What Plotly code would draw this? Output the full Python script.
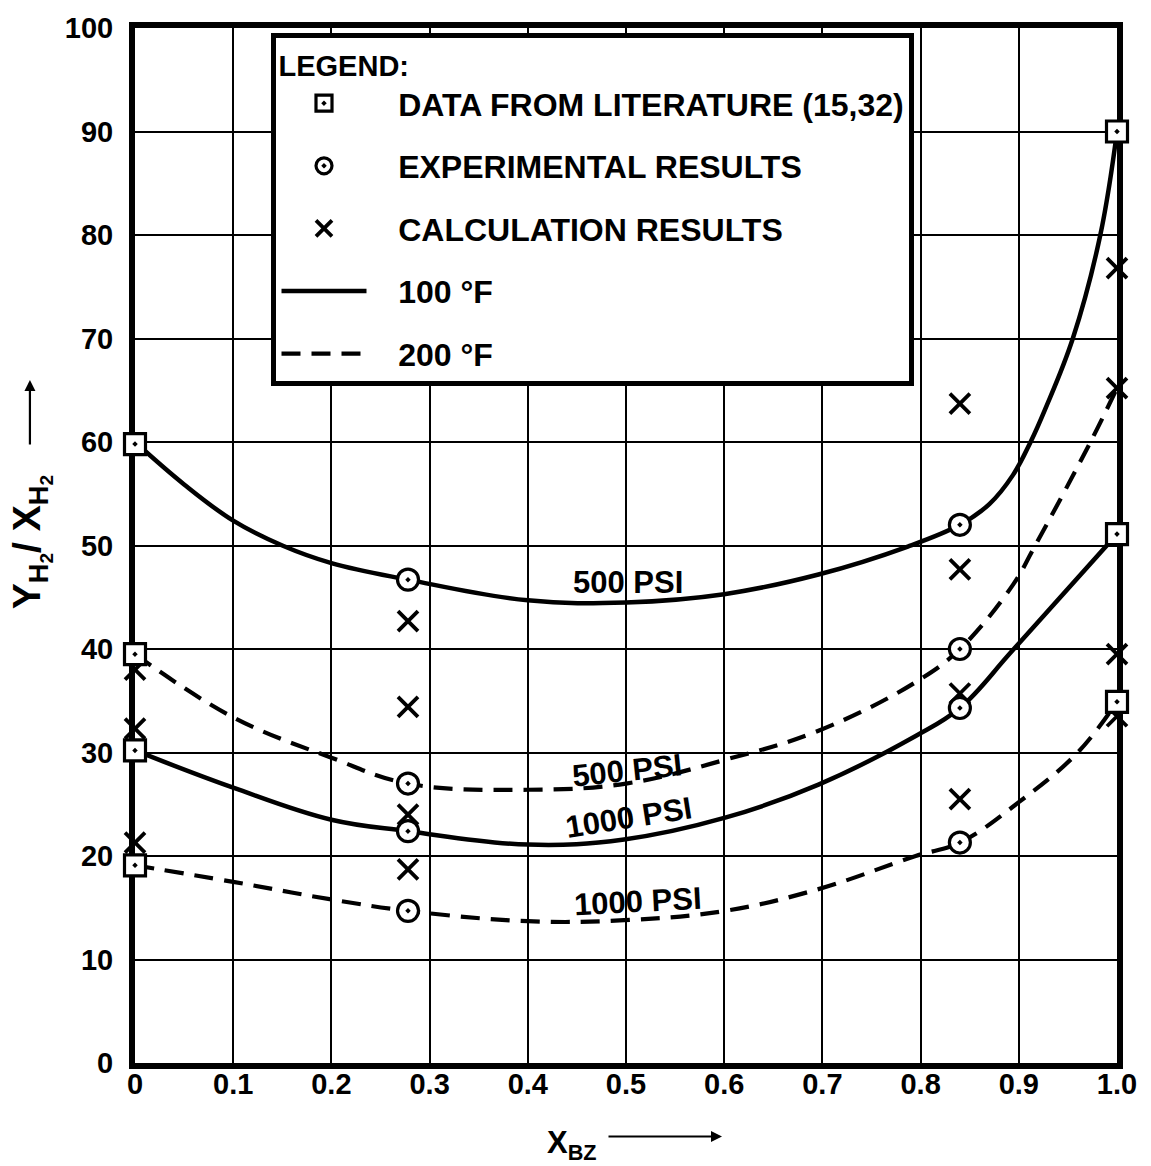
import plotly.graph_objects as go

# ---------------- data ----------------
# Data from literature (squares)
lit_x = [0.0, 0.0, 0.0, 0.0, 1.0, 1.0, 1.0]
lit_y = [59.8, 39.5, 30.2, 19.1, 90.0, 51.1, 34.9]

# Experimental results (circles)
exp_x = [0.278, 0.278, 0.278, 0.278, 0.84, 0.84, 0.84, 0.84]
exp_y = [46.7, 27.0, 22.4, 14.7, 52.0, 40.0, 34.3, 21.3]

# Calculation results (X)
calc_x = [0.0, 0.0, 0.0, 0.278, 0.278, 0.278, 0.278, 0.84, 0.84, 0.84, 0.84, 1.0, 1.0, 1.0, 1.0]
calc_y = [38.0, 32.3, 21.3, 42.7, 34.4, 24.0, 18.7, 63.7, 47.7, 35.7, 25.5, 76.8, 65.2, 39.5, 33.5]

# Curves
f100_p500_x = [0.0, 0.05, 0.1, 0.15, 0.2, 0.278, 0.4, 0.5, 0.6, 0.696, 0.787, 0.84, 0.87, 0.894, 0.912, 0.927, 0.955, 0.983, 1.0]
f100_p500_y = [60.0, 55.9, 52.4, 50.0, 48.3, 46.7, 44.7, 44.5, 45.3, 47.2, 49.9, 52.0, 54.0, 56.8, 60.0, 63.2, 70.0, 80.0, 90.0]

f200_p500_x = [0.0, 0.1, 0.2, 0.278, 0.4, 0.5, 0.601, 0.696, 0.795, 0.84, 0.894, 0.915, 0.973, 1.0]
f200_p500_y = [39.5, 33.4, 29.5, 27.0, 26.4, 27.0, 29.3, 32.1, 36.8, 40.0, 46.2, 49.7, 60.0, 65.2]

f100_p1000_x = [0.0, 0.1, 0.2, 0.278, 0.4, 0.498, 0.601, 0.696, 0.795, 0.84, 0.894, 1.0]
f100_p1000_y = [30.2, 26.6, 23.5, 22.4, 21.1, 21.6, 23.7, 26.9, 31.6, 34.3, 39.9, 51.1]

f200_p1000_x = [0.0, 0.1, 0.2, 0.278, 0.4, 0.498, 0.601, 0.696, 0.795, 0.84, 0.9, 0.96, 1.0]
f200_p1000_y = [19.1, 17.5, 15.8, 14.7, 13.7, 13.8, 14.7, 16.8, 20.0, 21.3, 25.2, 30.0, 34.9]

x_ticks = [0, 0.1, 0.2, 0.3, 0.4, 0.5, 0.6, 0.7, 0.8, 0.9, 1.0]
x_tick_text = ["0", "0.1", "0.2", "0.3", "0.4", "0.5", "0.6", "0.7", "0.8", "0.9", "1.0"]
y_ticks = [0, 10, 20, 30, 40, 50, 60, 70, 80, 90, 100]

curve_labels = ["500 PSI", "500 PSI", "1000 PSI", "1000 PSI"]

# ---------------- figure ----------------
FONT = "Liberation Sans, Arial, sans-serif"
solid_w = 4.5
dash_w = 4.2
dash_pat = "19px,11px"
SM = 1.1
PAD = "\u00a0\u00a0\u00a0"

fig = go.Figure()

fig.add_trace(go.Scatter(x=f100_p500_x, y=f100_p500_y, mode="lines", name=PAD + "100 °F",
                         line=dict(color="black", width=solid_w, shape="spline", smoothing=SM),
                         legendgroup="g4", legendrank=4, showlegend=True, hoverinfo="skip"))
fig.add_trace(go.Scatter(x=f100_p1000_x, y=f100_p1000_y, mode="lines", name=PAD + "100 °F",
                         line=dict(color="black", width=solid_w, shape="spline", smoothing=SM),
                         legendgroup="g4", showlegend=False, hoverinfo="skip"))
fig.add_trace(go.Scatter(x=f200_p500_x, y=f200_p500_y, mode="lines", name=PAD + "200 °F",
                         line=dict(color="black", width=dash_w, dash=dash_pat, shape="spline", smoothing=SM),
                         legendgroup="g5", legendrank=5, showlegend=True, hoverinfo="skip"))
fig.add_trace(go.Scatter(x=f200_p1000_x, y=f200_p1000_y, mode="lines", name=PAD + "200 °F",
                         line=dict(color="black", width=dash_w, dash=dash_pat, shape="spline", smoothing=SM),
                         legendgroup="g5", showlegend=False, hoverinfo="skip"))

fig.add_trace(go.Scatter(x=calc_x, y=calc_y, mode="markers", name=PAD + "CALCULATION RESULTS",
                         marker=dict(symbol="x-thin", size=20, color="black",
                                     line=dict(color="black", width=3.8)),
                         legendgroup="g3", legendrank=3, cliponaxis=False))
fig.add_trace(go.Scatter(x=exp_x, y=exp_y, mode="markers", name=PAD + "EXPERIMENTAL RESULTS",
                         marker=dict(symbol="circle-dot", size=21, color="white",
                                     line=dict(color="black", width=3.2)),
                         legendgroup="g2", legendrank=2, cliponaxis=False))
fig.add_trace(go.Scatter(x=lit_x, y=lit_y, mode="markers", name=PAD + "DATA FROM LITERATURE (15,32)",
                         marker=dict(symbol="square-dot", size=21, color="white",
                                     line=dict(color="black", width=3.2)),
                         legendgroup="g1", legendrank=1, cliponaxis=False))

axis_common = dict(
    showgrid=True, gridcolor="black", gridwidth=1.6,
    showline=True, linecolor="black", linewidth=6, mirror=True,
    ticks="", zeroline=False, layer="below traces",
    tickfont=dict(family=FONT, size=29, color="black", weight="bold"),
)

fig.update_xaxes(range=[0, 1], tickvals=x_ticks, ticktext=x_tick_text,
                 ticklabelstandoff=-10, **axis_common)
fig.update_yaxes(range=[0, 100], tickvals=y_ticks, ticklabelstandoff=10, **axis_common)

annotations = []
label_pos = [(0.502, 46.4, 0), (0.501, 28.3, -6), (0.503, 23.7, -9), (0.512, 15.6, -3)]
for txt, (lx, ly, ang) in zip(curve_labels, label_pos):
    annotations.append(dict(x=lx, y=ly, xref="x", yref="y", text=txt, showarrow=False,
                            textangle=ang, font=dict(family=FONT, size=31, color="black", weight="bold")))

# axis titles
annotations.append(dict(x=-0.135, y=0.503, xref="paper", yref="paper",
                        text="Y<sub>H<sub>2</sub></sub>/ X<sub>H<sub>2</sub></sub>",
                        showarrow=False, textangle=-90,
                        font=dict(family=FONT, size=39, color="black", weight="bold")))
annotations.append(dict(x=-0.107, y=(1063 - 376) / 1041, xref="paper", yref="paper", text="",
                        showarrow=True, arrowhead=2, arrowsize=1, arrowwidth=2.2, arrowcolor="black",
                        ax=0, ay=66))
annotations.append(dict(x=0.445, y=-0.1, xref="paper", yref="paper",
                        text="X<sub>BZ</sub>", showarrow=False,
                        font=dict(family=FONT, size=31, color="black", weight="bold")))
annotations.append(dict(x=(722 - 135) / 982, y=-0.071, xref="paper", yref="paper", text="",
                        showarrow=True, arrowhead=2, arrowsize=1, arrowwidth=2.2, arrowcolor="black",
                        ax=-115, ay=0))

fig.update_layout(
    width=1151, height=1166,
    margin=dict(l=135, r=34, t=22, b=103),
    paper_bgcolor="white", plot_bgcolor="white",
    font=dict(family=FONT, color="black"),
    annotations=annotations,
    showlegend=True,
    legend=dict(
        x=0.139, y=0.995, xanchor="left", yanchor="top",
        bgcolor="white", bordercolor="black", borderwidth=5,
        font=dict(family=FONT, size=32, color="black", weight="bold"),
        title=dict(text="LEGEND:", font=dict(family=FONT, size=29, color="black", weight="bold")),
        traceorder="grouped", tracegroupgap=18, itemwidth=85, itemsizing="trace",
    ),
)

fig.write_html("out.html")
